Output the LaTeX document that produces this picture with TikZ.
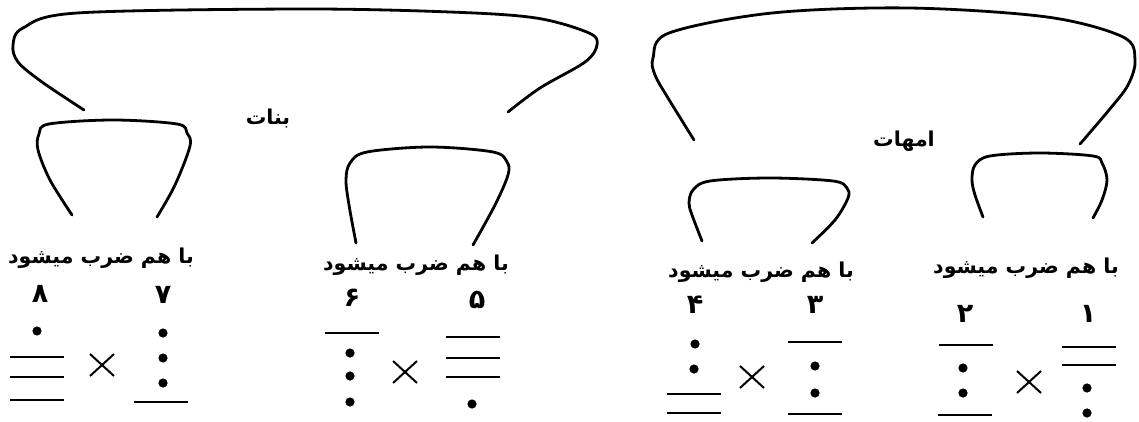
\documentclass[tikz,border=0pt]{standalone}
\usepackage{fontspec}
\newfontfamily\arabicfont[Script=Arabic]{DejaVu Sans}
\TeXXeTstate=1
\tikzset{
  arcline/.style={line width=2.8pt, line cap=round, line join=round},
  barline/.style={line width=2.3pt},
  crossline/.style={line width=2pt},
  lbl/.style={font=\arabicfont\bfseries\fontsize{20.5}{24}\selectfont, inner sep=0pt},
  numlbl/.style={font=\arabicfont\bfseries\fontsize{27}{28}\selectfont, inner sep=0pt},
}
\newcommand\gdot[2]{\fill (#1,#2) circle (4.6);}
\newcommand\gbar[2]{\draw[barline] (#1-27,#2) -- (#1+27,#2);}
\newcommand\gcross[2]{\draw[crossline] (#1-12,#2-11) -- (#1+12,#2+11) (#1-12,#2+11) -- (#1+12,#2-11);}
\begin{document}
\begin{tikzpicture}[x=1pt,y=-1pt]
\useasboundingbox (0,0) rectangle (1139,422);
% big arcs
\draw[arcline] plot[smooth,tension=0.55] coordinates {(84,110) (42,82) (18,62) (13,45) (23,28) (77,13) (300,9) (450,12) (536,18) (589,33) (597,45) (585,62) (540,88) (508,112)};
\draw[arcline] plot[smooth,tension=0.55] coordinates {(694,140) (668,98) (655,75) (653,58) (669,33) (772,13) (909,8) (1047,17) (1123,37) (1135,60) (1128,85) (1109,110) (1080,144)};
% small arcs
\draw[arcline] plot[smooth,tension=0.55] coordinates {(72,215) (50,180) (38,150) (39,134) (49,124) (113,120) (177,124) (187,133) (190,146) (175,185) (157,217)};
\draw[arcline] plot[smooth,tension=0.55] coordinates {(356,243) (349,205) (346,180) (350,163) (367,152) (430,147) (493,152) (507,162) (508,175) (495,205) (473,245)};
\draw[arcline] plot[smooth,tension=0.55] coordinates {(702,241) (692,215) (689,203) (693,190) (710,181) (770,178) (833,181) (847,188) (848,198) (835,220) (812,243)};
\draw[arcline] plot[smooth,tension=0.55] coordinates {(983,217) (975,195) (972,180) (975,165) (990,156) (1040,153) (1093,156) (1102,163) (1107,180) (1102,200) (1093,218)};
% titles
\node[lbl] (banat) at (268,118) {\beginR بنات\endR};
\node[lbl] (ommahat) at (904,141) {\beginR امهات\endR};
% captions
\node[lbl] (c1) at (101,258) {\beginR با هم ضرب میشود\endR};
\node[lbl] (c2) at (416,265) {\beginR با هم ضرب میشود\endR};
\node[lbl] (c3) at (761,272) {\beginR با هم ضرب میشود\endR};
\node[lbl] (c4) at (1026,268) {\beginR با هم ضرب میشود\endR};
% numbers
\node[numlbl] (n8) at (40,294) {۸};
\node[numlbl] (n7) at (163,295) {۷};
\node[numlbl] (n6) at (352,298) {۶};
\node[numlbl] (n5) at (477,300) {۵};
\node[numlbl] (n4) at (695,305) {۴};
\node[numlbl] (n3) at (815,305) {۳};
\node[numlbl] (n2) at (965,314) {۲};
\node[numlbl] (n1) at (1088,314) {۱};
% figure 8
\gdot{37}{331} \gbar{37}{357} \gbar{37}{377} \gbar{37}{400}
\gcross{102}{365}
% figure 7
\gdot{163}{333} \gdot{163}{358} \gdot{163}{383} \gbar{161}{402}
% figure 6
\gbar{352}{333} \gdot{350}{353} \gdot{350}{376} \gdot{350}{402}
\gcross{405}{372}
% figure 5
\gbar{473}{337} \gbar{473}{358} \gbar{473}{377} \gdot{472}{404}
% figure 4
\gdot{695}{344} \gdot{694}{369} \gbar{694}{394} \gbar{694}{413}
\gcross{752}{377}
% figure 3
\gbar{815}{342} \gdot{815}{366} \gdot{815}{393} \gbar{815}{414}
% figure 2
\gbar{966}{345} \gdot{963}{368} \gdot{963}{393} \gbar{965}{415}
\gcross{1029}{382}
% figure 1
\gbar{1089}{347} \gbar{1089}{365} \gdot{1087}{388} \gdot{1087}{413}
\end{tikzpicture}
\end{document}
